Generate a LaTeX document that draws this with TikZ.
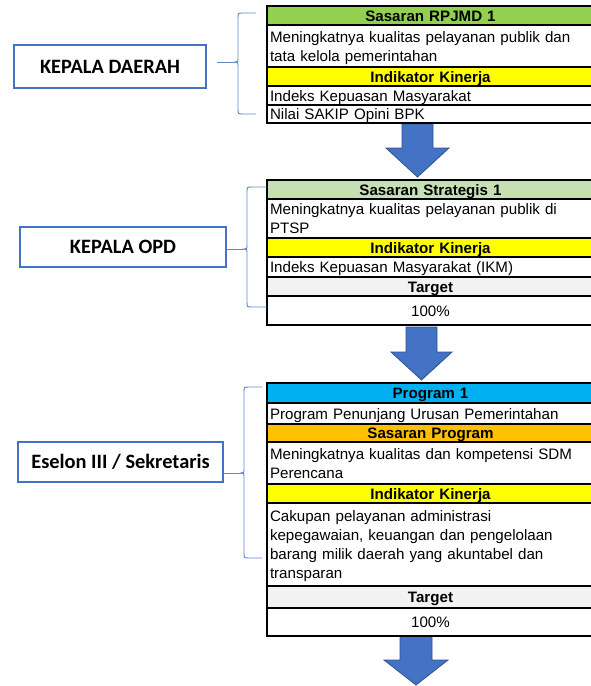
\documentclass[tikz,border=0pt]{standalone}
\usepackage{fontspec}
\setmainfont{Liberation Sans}
\newfontfamily\calibfont{Carlito}
\definecolor{rpjmd}{HTML}{92D050}
\definecolor{strat}{HTML}{C6E0B4}
\definecolor{kuning}{HTML}{FFFF00}
\definecolor{prog}{HTML}{00B0F0}
\definecolor{oranye}{HTML}{FFC000}
\definecolor{abu}{HTML}{F2F2F2}
\definecolor{biru}{HTML}{4472C4}
\definecolor{birutua}{HTML}{2F528F}
\begin{document}
\begin{tikzpicture}[x=0.75pt,y=-0.75pt,
 rowbox/.style={draw=black, line width=1.5pt, anchor=north west, outer sep=0pt, inner xsep=2.25pt, inner ysep=0pt, text width=240.75pt, minimum height={#1*0.75pt}, font=\fontsize{11.35}{14.4}\selectfont, text height=8.5pt, text depth=0pt},
 hd/.style={align=center, font=\fontsize{11.35}{14.4}\selectfont\bfseries},
 tx/.style={align=left},
 two/.style={text depth=14.4pt},
 four/.style={text depth=43.2pt},
 role/.style={draw=biru, line width=0.9pt, fill=white, font=\calibfont\bfseries\fontsize{15.3}{18}\selectfont, inner sep=0pt, outer sep=0pt},
 brace/.style={draw=biru!85, line width=0.7pt},
 bigarrow/.style={fill=biru, draw=birutua, line width=0.6pt, line join=miter}]
\useasboundingbox (0,0) rectangle (591,686);
\clip (0,0) rectangle (591,686);

% block arrows
\draw[bigarrow] (402,124) -- (433,124) -- (433,148) -- (449,148) -- (417.5,177) -- (386,148) -- (402,148) -- cycle;
\draw[bigarrow] (406,327) -- (437,327) -- (437,352) -- (452,352) -- (421.5,380) -- (391,352) -- (406,352) -- cycle;
\draw[bigarrow] (400,636) -- (432,636) -- (432,660) -- (448,660) -- (416,685) -- (384,660) -- (400,660) -- cycle;

% table 1
\node[rowbox=19,hd,fill=rpjmd] (a1) at (267,6) {Sasaran RPJMD 1};
\node[rowbox=42,tx,two] (a2) at (a1.south west) {Meningkatnya kualitas pelayanan publik dan\\tata kelola pemerintahan};
\node[rowbox=19,hd,fill=kuning] (a3) at (a2.south west) {Indikator Kinerja};
\node[rowbox=19,tx] (a4) at (a3.south west) {Indeks Kepuasan Masyarakat};
\node[rowbox=18,tx] (a5) at (a4.south west) {Nilai SAKIP Opini BPK};

% table 2
\node[rowbox=19,hd,fill=strat] (b1) at (267,180) {Sasaran Strategis 1};
\node[rowbox=39,tx,two] (b2) at (b1.south west) {Meningkatnya kualitas pelayanan publik di\\PTSP};
\node[rowbox=19,hd,fill=kuning] (b3) at (b2.south west) {Indikator Kinerja};
\node[rowbox=20,tx] (b4) at (b3.south west) {Indeks Kepuasan Masyarakat (IKM)};
\node[rowbox=19,hd,fill=abu] (b5) at (b4.south west) {Target};
\node[rowbox=29,align=center] (b6) at (b5.south west) {100\%};

% table 3
\node[rowbox=20,hd,fill=prog] (c1) at (267,383) {Program 1};
\node[rowbox=21,tx] (c2) at (c1.south west) {Program Penunjang Urusan Pemerintahan};
\node[rowbox=18,hd,fill=oranye] (c3) at (c2.south west) {Sasaran Program};
\node[rowbox=42,tx,two] (c4) at (c3.south west) {Meningkatnya kualitas dan kompetensi SDM\\Perencana};
\node[rowbox=19,hd,fill=kuning] (c5) at (c4.south west) {Indikator Kinerja};
\node[rowbox=83,tx,four] (c6) at (c5.south west) {Cakupan pelayanan administrasi\\kepegawaian, keuangan dan pengelolaan\\barang milik daerah yang akuntabel dan\\transparan};
\node[rowbox=22,hd,fill=abu] (c7) at (c6.south west) {Target};
\node[rowbox=28,align=center] (c8) at (c7.south west) {100\%};

% role boxes
\node[role, minimum width=144pt, minimum height=32.25pt] (kd) at (110,66.5) {KEPALA DAERAH};
\node[role, minimum width=154.5pt, minimum height=30pt] (ko) at (123,247) {KEPALA OPD};
\node[role, minimum width=153.75pt, minimum height=30pt] (es) at (120.5,462) {Eselon III / Sekretaris};

% braces
\coordinate (t1) at (235,62);
\coordinate (t2) at (244,249);
\coordinate (t3) at (241,473);
\draw[brace] ([xshift=8.25pt]kd.east |- t1) -- (t1);
\draw[brace] (ko.east |- t2) -- (t2);
\draw[brace] (es.east |- t3) -- (t3);
\draw[brace] (256,13) -- (243,13) .. controls (238,13) .. (238,18) -- (238,57) .. controls (238,62) .. (t1) .. controls (238,62) .. (238,67) -- (238,109) .. controls (238,114) .. (243,114) -- (256,114);
\draw[brace] (267,187) -- (252,187) .. controls (247,187) .. (247,192) -- (247,244) .. controls (247,249) .. (t2) .. controls (247,249) .. (247,254) -- (247,302) .. controls (247,307) .. (252,307) -- (267,307);
\draw[brace] (262,387) -- (249,387) .. controls (244,387) .. (244,392) -- (244,468) .. controls (244,473) .. (t3) .. controls (244,473) .. (244,478) -- (244,553) .. controls (244,558) .. (249,558) -- (262,558);
\end{tikzpicture}
\end{document}
